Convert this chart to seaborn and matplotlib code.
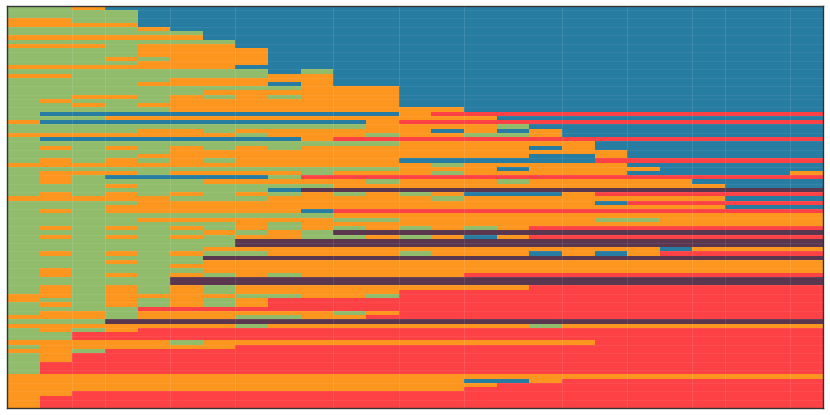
import numpy as np
import seaborn as sns
import matplotlib
matplotlib.use('Agg')
import matplotlib.pyplot as plt
from matplotlib.colors import ListedColormap

# category order, one colour for each
categories = ['B', 'G', 'O', 'R', 'D']
colors = ['#277CA2', '#90BC6C', '#FD961F', '#FD4145', '#5B364F']

# every row as runs of category + number of columns (25 columns)
rows = [
    'G2 O1 B22', 'G4 B21', 'G4 B21', 'O2 G2 B21', 'O4 B21', 'G4 O1 B20', 'G6 B19', 'O6 B19',
    'G7 B18', 'O3 G1 O3 B18', 'G4 O4 B17', 'G4 O4 B17', 'G3 O1 G1 O3 B17', 'G4 O4 B17', 'O7 B18',
    'G8 B1 G1 B15', 'O2 G6 O2 B15', 'G5 O5 B15', 'G4 O4 B1 O1 B15', 'G9 O3 B13', 'G6 O6 B13',
    'G2 O2 G1 O1 G1 O1 G1 O3 B13', 'G1 O1 G3 O7 B13', 'G2 O1 G1 O8 B13', 'G5 O9 B11',
    'G1 B11 O1 R12', 'G3 O12 B10', 'O1 B10 O1 R13', 'G11 O4 G1 B9',
    'G4 O2 G1 O6 B1 O1 B1 O1 B8', 'O7 G1 O3 G1 O2 G2 O1 B8', 'G1 B8 O1 R15', 'G12 O6 B7',
    'G1 O1 G1 O1 G1 O1 G1 O1 G1 O7 B1 O1 B7', 'G5 O14 B6', 'G4 O12 B2 O1 B6',
    'G1 O1 G1 O1 G1 O1 G1 O5 B6 R7', 'O13 G1 O5 B6', 'G12 O3 B1 O4 B5',
    'G1 O3 G1 O4 G1 O3 G1 O5 B5 O1', 'G1 O1 G1 B5 G1 R16', 'G1 O1 G4 O5 G1 O3 G1 O5 B4',
    'G3 O1 G6 O12 B3', 'G8 B1 D16', 'G1 O1 G1 O1 G1 O1 G1 O1 G1 O1 G1 O1 G1 O1 B3 O1 R7',
    'O5 G3 O5 G1 O8 B3', 'G4 O14 B1 R6', 'G3 O19 B3', 'G1 O1 G1 O6 B1 R15', 'G10 O15',
    'G4 O6 G2 O6 G2 O5', 'G7 O1 G1 O16', 'G1 O1 G1 O1 G1 O1 G1 O1 G1 O1 G1 O1 G1 O1 G1 O1 R9',
    'G6 O1 G1 O1 G1 D15', 'G1 O1 G1 O1 G1 O1 G1 O2 G2 O1 G1 O1 B1 O1 R9', 'G7 D18', 'G7 D18',
    'G6 O14 B1 O4', 'G1 O1 G1 O1 G1 O1 G2 O4 G1 O3 B1 O1 B1 O1 R5', 'G6 D19', 'G3 O1 G2 O19',
    'G5 O20', 'G1 O1 G4 O19', 'G1 O1 G1 O1 G1 O1 G1 O1 G1 O5 R11', 'G5 D20', 'G5 D20',
    'G1 O1 G1 O1 G1 O1 G1 O9 R9', 'G1 O1 G1 O1 G1 O1 G1 O5 R13', 'O2 G1 O4 G2 O2 G1 R13',
    'O1 G2 O1 G1 O1 G1 O1 R17', 'G1 O1 G1 O1 G1 O1 G1 O1 R17', 'G4 R21', 'G1 O2 G1 O6 G1 O1 R13',
    'O3 G1 O3 G2 O2 R14', 'G3 D22', 'O7 G1 O8 G1 O8', 'G1 O1 G1 O1 R21', 'G2 R23', 'G2 R23',
    'O5 G1 O12 R7', 'G1 O6 R18', 'O2 G1 R22', 'G1 O1 R23', 'G1 O1 R23', 'G1 R24', 'G1 R24', 'G1 R24',
    'O25', 'O14 B2 O1 R8', 'O15 R10', 'O14 R11', 'O2 R23', 'O1 R24', 'O1 R24', 'O1 R24',
]


def decode(row):
    cells = []
    for run in row.split():
        cells += [categories.index(run[0])] * int(run[1:])
    return cells


matrix = np.array([decode(r) for r in rows])

fig, ax = plt.subplots(figsize=(8.3, 4.15), dpi=100)
fig.subplots_adjust(left=7 / 830, right=823 / 830, top=1 - 5.7 / 415, bottom=1 - 408.3 / 415)

sns.heatmap(matrix, ax=ax, cmap=ListedColormap(colors), vmin=-0.5, vmax=4.5,
            cbar=False, xticklabels=False, yticklabels=False)

# faint seams between the cells
seam_cols = [2, 3, 5, 7, 10, 12, 14, 17, 19, 21, 22, 24]
seam_rows = list(range(1, 22, 2)) + list(range(22, 87, 2)) + [89, 91, 93]
ax.vlines(seam_cols, 0, matrix.shape[0], color='white', lw=0.8, alpha=0.1)
ax.hlines(seam_rows, 0, matrix.shape[1], color='white', lw=0.6, alpha=0.08)

for s in ax.spines.values():
    s.set_visible(True)
    s.set_color('#333333')
    s.set_linewidth(1.0)

plt.savefig('out.png', dpi=100)
